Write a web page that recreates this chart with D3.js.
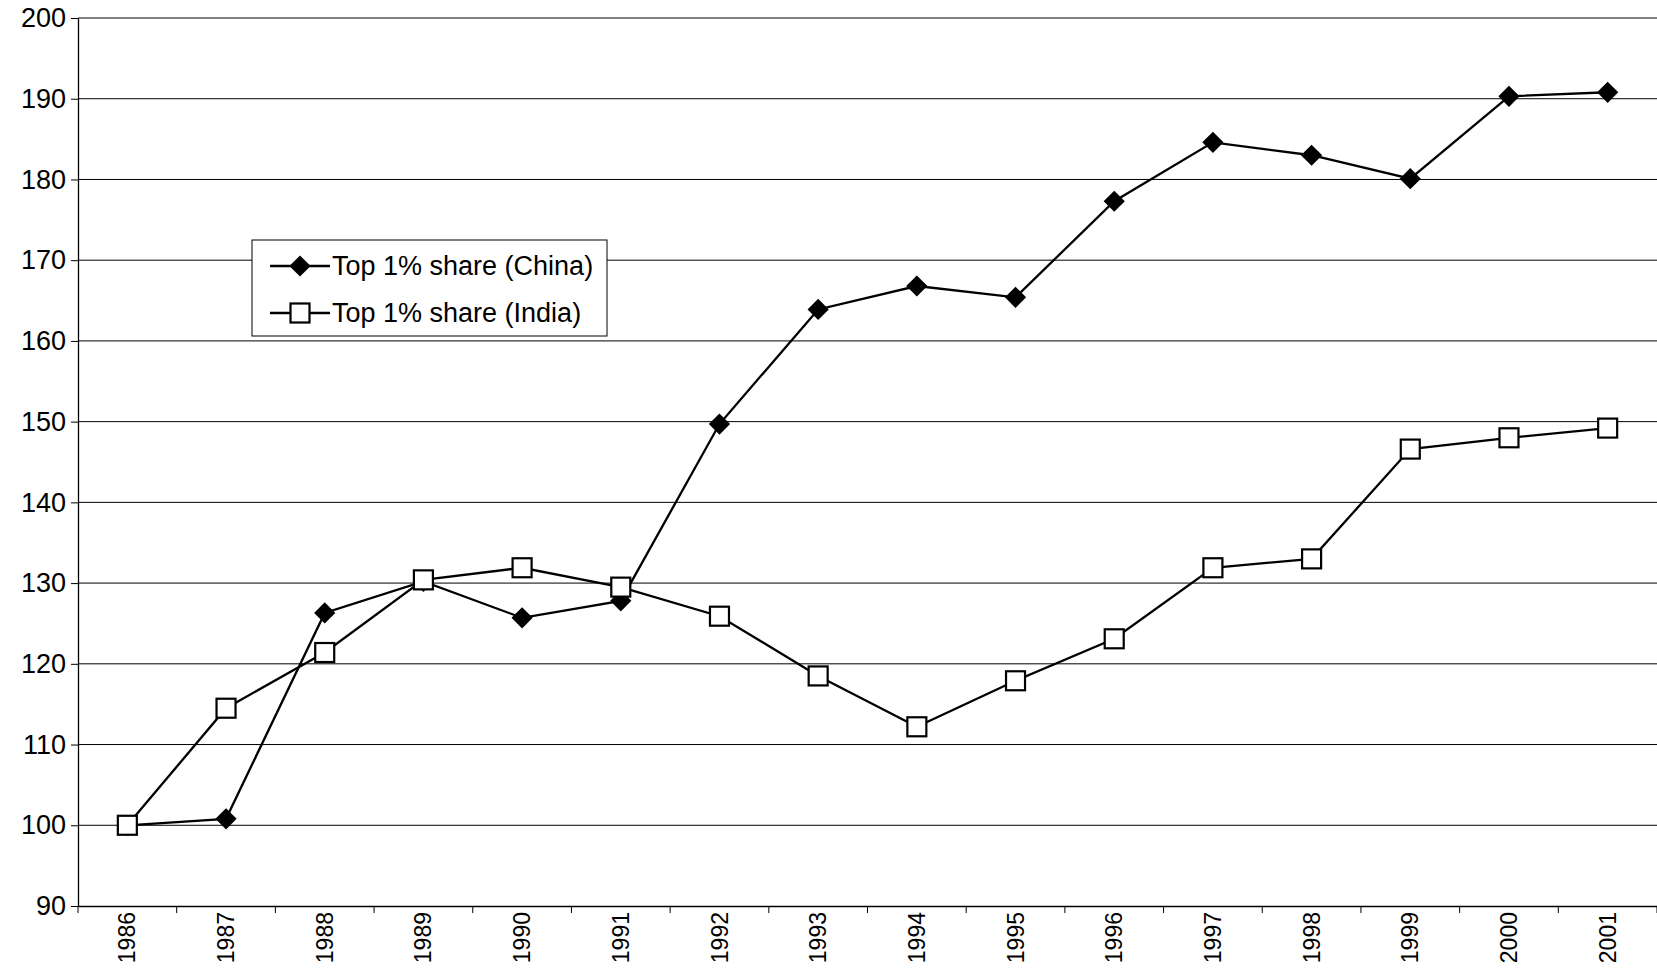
<!DOCTYPE html>
<html><head><meta charset="utf-8">
<script src="https://cdn.jsdelivr.net/npm/d3@7"></script>
<style>body{margin:0;background:#fff}text{font-family:"Liberation Sans",Arial,sans-serif}</style>
</head><body><svg id="c" width="1657" height="978"></svg>
<script>
const years = ["1986","1987","1988","1989","1990","1991","1992","1993","1994","1995","1996","1997","1998","1999","2000","2001"];
const china = [100,100.8,126.3,130.2,125.7,127.8,149.7,163.9,166.8,165.4,177.3,184.6,183.0,180.1,190.3,190.8];
const india = [100,114.5,121.4,130.4,131.9,129.5,125.9,118.5,112.2,117.9,123.1,131.9,133.0,146.6,148.0,149.2];
const yTicks = [90,100,110,120,130,140,150,160,170,180,190,200];

const svg = d3.select("#c");
const m = {l:78, r:0, t:18, b:72};
const W = 1657, H = 978;
const x = d3.scaleBand().domain(years).range([m.l, W - m.r]);
const y = d3.scaleLinear().domain([90,200]).range([H - m.b, m.t]);

// gridlines
svg.append("g").selectAll("line").data(yTicks.slice(1)).join("line")
  .attr("x1", m.l).attr("x2", W).attr("y1", d => y(d)).attr("y2", d => y(d))
  .attr("stroke", "#000").attr("stroke-width", 1);

// y axis
const ya = svg.append("g").attr("transform", `translate(${m.l},0)`)
  .call(d3.axisLeft(y).tickValues(yTicks).tickSize(7).tickSizeOuter(0));
ya.select(".domain").attr("stroke-width", 1.3);
ya.selectAll("text").attr("font-size", 27).attr("dx", -2).attr("fill", "#000");

// x axis
const xa = svg.append("g").attr("transform", `translate(0,${y(90)})`)
  .call(d3.axisBottom(x).tickSize(0).tickSizeOuter(0));
xa.select(".domain").attr("stroke-width", 1.3);
xa.selectAll("text").attr("font-size", 23).attr("fill", "#000")
  .attr("transform", "rotate(-90)").attr("text-anchor", "end")
  .attr("x", -6).attr("y", 0).attr("dy", "0.35em");
svg.append("g").selectAll("line").data(d3.range(years.length + 1)).join("line")
  .attr("x1", i => m.l + i * x.step()).attr("x2", i => m.l + i * x.step())
  .attr("y1", y(90)).attr("y2", y(90) + 7).attr("stroke", "#000");

const line = d3.line().x((d, i) => x(years[i]) + x.bandwidth() / 2).y(d => y(d));
[china, india].forEach(s => svg.append("path").attr("d", line(s))
  .attr("fill", "none").attr("stroke", "#000").attr("stroke-width", 2.3));

svg.append("g").selectAll("rect").data(china).join("rect")
  .attr("x", -7.5).attr("y", -7.5).attr("width", 15).attr("height", 15)
  .attr("transform", (d, i) => `translate(${x(years[i]) + x.bandwidth() / 2},${y(d)}) rotate(45)`)
  .attr("fill", "#000");
svg.append("g").selectAll("rect").data(india).join("rect")
  .attr("x", (d, i) => x(years[i]) + x.bandwidth() / 2 - 9.5).attr("y", d => y(d) - 9.5)
  .attr("width", 19).attr("height", 19)
  .attr("fill", "#fff").attr("stroke", "#000").attr("stroke-width", 2.2);

// legend
const lg = svg.append("g").attr("transform", "translate(252,240)");
lg.append("rect").attr("width", 355).attr("height", 96).attr("fill", "#fff").attr("stroke", "#000");
const names = ["Top 1% share (China)", "Top 1% share (India)"];
names.forEach((n, i) => {
  const cy = 26 + i * 47;
  lg.append("line").attr("x1", 18).attr("x2", 78).attr("y1", cy).attr("y2", cy).attr("stroke", "#000").attr("stroke-width", 2.3);
  if (i === 0) lg.append("rect").attr("x", -7.5).attr("y", -7.5).attr("width", 15).attr("height", 15)
    .attr("transform", `translate(48,${cy}) rotate(45)`).attr("fill", "#000");
  else lg.append("rect").attr("x", 38.5).attr("y", cy - 9.5).attr("width", 19).attr("height", 19)
    .attr("fill", "#fff").attr("stroke", "#000").attr("stroke-width", 2.2);
  lg.append("text").attr("x", 80).attr("y", cy).attr("dy", "0.35em").attr("font-size", 27).text(n);
});
</script></body></html>
